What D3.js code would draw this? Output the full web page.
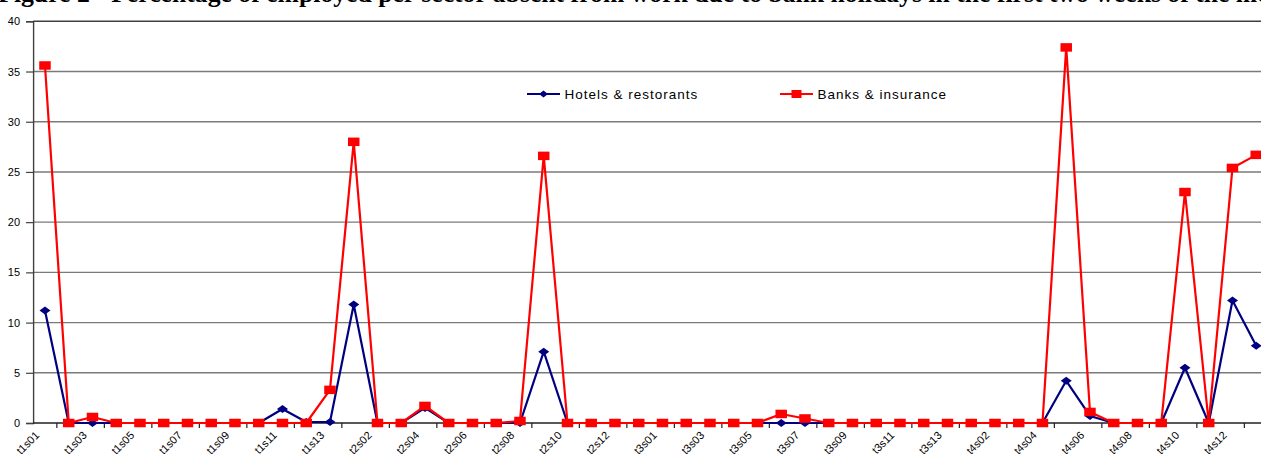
<!DOCTYPE html>
<html>
<head>
<meta charset="utf-8">
<script src="https://cdn.jsdelivr.net/npm/d3@7/dist/d3.min.js"></script>
<style>
  html, body { margin: 0; padding: 0; background: #fff; overflow: hidden; }
  svg { display: block; }
</style>
</head>
<body>
<svg id="chart" width="1261" height="455"></svg>
<script>
// Weeks: four terms (t1..t4), thirteen weeks each (s01..s13)
const terms = ["t1", "t2", "t3", "t4"];
const weeksPerTerm = 13;
const categories = terms.flatMap(t =>
  d3.range(1, weeksPerTerm + 1).map(w => t + "s" + String(w).padStart(2, "0")));

// Percentage of employed absent, by sector (one row per term)
const hotels = [
  11.2, 0, 0, 0, 0, 0, 0, 0, 0, 0, 1.4, 0.1, 0.1,
  11.8, 0, 0, 1.5, 0, 0, 0, 0, 7.1, 0, 0, 0, 0,
  0, 0, 0, 0, 0, 0, 0, 0, 0, 0, 0, 0, 0,
  0, 0, 0, 0, 4.2, 0.7, 0, 0, 0, 5.5, 0, 12.2, 7.7
];
const banks = [
  35.6, 0, 0.6, 0, 0, 0, 0, 0, 0, 0, 0, 0, 3.3,
  28.0, 0, 0, 1.7, 0, 0, 0, 0.2, 26.6, 0, 0, 0, 0,
  0, 0, 0, 0, 0, 0.9, 0.45, 0, 0, 0, 0, 0, 0,
  0, 0, 0, 0, 37.4, 1.1, 0, 0, 0, 23.0, 0, 25.4, 26.7
];
const seriesNames = ["Hotels & restorants", "Banks & insurance"];
const yTicks = [0, 5, 10, 15, 20, 25, 30, 35, 40];
const title = "Figure 2 - Percentage of employed per sector absent from work due to bank holidays in the first two weeks of the month";

const svg = d3.select("#chart");
const left = 33.1, band = 23.75;
const right = left + band * categories.length;
const x = d3.scaleBand().domain(categories).range([left, right]).padding(0);
const cx = d => x(d) + x.bandwidth() / 2;
const y = d3.scaleLinear().domain([0, 40]).range([423, 21.3]);

// Title (runs past the page edges)
svg.append("text")
  .attr("x", -1.8).attr("y", 1.5)
  .attr("font-family", "Liberation Serif, Times New Roman, serif")
  .attr("font-weight", "bold").attr("font-size", 25.7)
  .attr("fill", "#000")
  .text(title);

// Horizontal grid lines
svg.append("g").selectAll("line").data(yTicks.filter(v => v > 0)).join("line")
  .attr("x1", left).attr("x2", right)
  .attr("y1", d => y(d)).attr("y2", d => y(d))
  .attr("stroke", d => d === 40 ? "#404040" : "#7a7a7a")
  .attr("stroke-width", 1.4);

// Y axis
const yAxis = svg.append("g").attr("transform", `translate(${left},0)`)
  .call(d3.axisLeft(y).tickValues(yTicks).tickSize(7).tickPadding(6).tickFormat(d3.format("d")));
yAxis.select(".domain").attr("stroke", "#404040").attr("stroke-width", 1.4);
yAxis.selectAll(".tick line").attr("stroke", "#404040").attr("stroke-width", 1.2);
yAxis.selectAll("text").attr("font-family", "Liberation Sans, Arial, sans-serif")
  .attr("font-size", 11).attr("fill", "#000");

// X axis: baseline, tick marks every second boundary, labels every second week
const xg = svg.append("g");
xg.append("line").attr("x1", left).attr("x2", right)
  .attr("y1", y(0)).attr("y2", y(0)).attr("stroke", "#202020").attr("stroke-width", 1.4);
const tickCats = categories.filter((d, i) => i % 2 === 1);
xg.selectAll("line.tk").data(tickCats).join("line").attr("class", "tk")
  .attr("x1", d => x(d)).attr("x2", d => x(d))
  .attr("y1", y(0)).attr("y2", y(0) + 5)
  .attr("stroke", "#202020").attr("stroke-width", 1.2);
const labelCats = categories.filter((d, i) => i % 2 === 0);
xg.selectAll("text").data(labelCats).join("text")
  .attr("transform", d => `translate(${cx(d) - 5},${y(0) + 13}) rotate(-45)`)
  .attr("text-anchor", "end")
  .attr("font-family", "Liberation Sans, Arial, sans-serif")
  .attr("font-size", 11).attr("fill", "#000")
  .text(d => d);

// Series
const line = d3.line().x((d, i) => cx(categories[i])).y(d => y(d));
const diamondPath = "M0,-4L5.5,0L0,4L-5.5,0Z";

svg.append("path").datum(hotels).attr("d", line)
  .attr("fill", "none").attr("stroke", "#000080").attr("stroke-width", 2.2).attr("stroke-linejoin", "round");
svg.append("g").selectAll("path").data(hotels).join("path")
  .attr("d", diamondPath)
  .attr("transform", (d, i) => `translate(${cx(categories[i])},${y(d)})`)
  .attr("fill", "#000080");

svg.append("path").datum(banks).attr("d", line)
  .attr("fill", "none").attr("stroke", "#ff0000").attr("stroke-width", 2.2).attr("stroke-linejoin", "round");
svg.append("g").selectAll("rect").data(banks).join("rect")
  .attr("x", (d, i) => cx(categories[i]) - 5.75).attr("y", d => y(d) - 4.25)
  .attr("width", 11.5).attr("height", 8.5)
  .attr("fill", "#ff0000");

// Legend
const legend = [
  { name: seriesNames[0], color: "#000080", x0: 527, marker: "diamond" },
  { name: seriesNames[1], color: "#ff0000", x0: 780, marker: "square" }
];
const lg = svg.append("g").selectAll("g").data(legend).join("g")
  .attr("transform", d => `translate(${d.x0},94)`);
lg.append("line").attr("x1", 0).attr("x2", 33).attr("y1", 0).attr("y2", 0)
  .attr("stroke", d => d.color).attr("stroke-width", 2.2);
lg.filter(d => d.marker === "diamond").append("path")
  .attr("d", "M0,-3.5L4.5,0L0,3.5L-4.5,0Z")
  .attr("transform", "translate(16.5,0)")
  .attr("fill", d => d.color);
lg.filter(d => d.marker === "square").append("rect")
  .attr("x", 11.5).attr("y", -4).attr("width", 10).attr("height", 8)
  .attr("fill", d => d.color);
lg.append("text").attr("x", 37.5).attr("y", 4.8)
  .attr("font-family", "Liberation Sans, Arial, sans-serif")
  .attr("font-size", 13.5).attr("letter-spacing", 1.0).attr("fill", "#000")
  .text(d => d.name);
</script>
</body>
</html>
